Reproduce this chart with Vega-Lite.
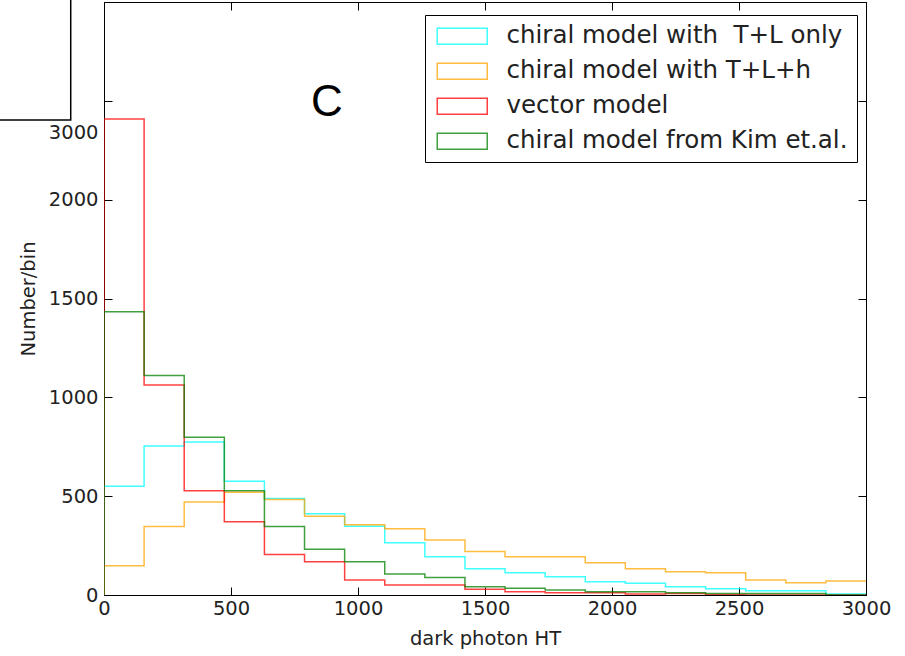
{
  "$schema": "https://vega.github.io/schema/vega-lite/v6.json",
  "width": 762,
  "height": 593,
  "autosize": {"type": "none"},
  "padding": {"left": 104, "top": 2, "right": 39, "bottom": 61},
  "background": "white",
  "config": {
    "font": "DejaVu Sans",
    "view": {"stroke": "black", "strokeWidth": 1},
    "axis": {"grid": false, "domainColor": "black", "tickColor": "black", "labelColor": "#222", "titleColor": "#222", "titleFontWeight": "normal"}
  },
  "datasets": {
    "hist": [
      {"m": "chiral model with\u00a0 T+L only", "i": 0, "x": 0, "y": 0},
      {"m": "chiral model with\u00a0 T+L only", "i": 1, "x": 0, "y": 550},
      {"m": "chiral model with\u00a0 T+L only", "i": 2, "x": 157.9, "y": 754},
      {"m": "chiral model with\u00a0 T+L only", "i": 3, "x": 315.8, "y": 774},
      {"m": "chiral model with\u00a0 T+L only", "i": 4, "x": 473.7, "y": 576},
      {"m": "chiral model with\u00a0 T+L only", "i": 5, "x": 631.6, "y": 488},
      {"m": "chiral model with\u00a0 T+L only", "i": 6, "x": 789.5, "y": 411},
      {"m": "chiral model with\u00a0 T+L only", "i": 7, "x": 947.4, "y": 348},
      {"m": "chiral model with\u00a0 T+L only", "i": 8, "x": 1105.3, "y": 264},
      {"m": "chiral model with\u00a0 T+L only", "i": 9, "x": 1263.2, "y": 193},
      {"m": "chiral model with\u00a0 T+L only", "i": 10, "x": 1421.1, "y": 133},
      {"m": "chiral model with\u00a0 T+L only", "i": 11, "x": 1578.9, "y": 113},
      {"m": "chiral model with\u00a0 T+L only", "i": 12, "x": 1736.8, "y": 92},
      {"m": "chiral model with\u00a0 T+L only", "i": 13, "x": 1894.7, "y": 67},
      {"m": "chiral model with\u00a0 T+L only", "i": 14, "x": 2052.6, "y": 59},
      {"m": "chiral model with\u00a0 T+L only", "i": 15, "x": 2210.5, "y": 42},
      {"m": "chiral model with\u00a0 T+L only", "i": 16, "x": 2368.4, "y": 32},
      {"m": "chiral model with\u00a0 T+L only", "i": 17, "x": 2526.3, "y": 22},
      {"m": "chiral model with\u00a0 T+L only", "i": 18, "x": 2684.2, "y": 22},
      {"m": "chiral model with\u00a0 T+L only", "i": 19, "x": 2842.1, "y": 5},
      {"m": "chiral model with\u00a0 T+L only", "i": 20, "x": 3000, "y": 5},

      {"m": "chiral model with T+L+h", "i": 0, "x": 0, "y": 0},
      {"m": "chiral model with T+L+h", "i": 1, "x": 0, "y": 148},
      {"m": "chiral model with T+L+h", "i": 2, "x": 157.9, "y": 347},
      {"m": "chiral model with T+L+h", "i": 3, "x": 315.8, "y": 470},
      {"m": "chiral model with T+L+h", "i": 4, "x": 473.7, "y": 520},
      {"m": "chiral model with T+L+h", "i": 5, "x": 631.6, "y": 483},
      {"m": "chiral model with T+L+h", "i": 6, "x": 789.5, "y": 399},
      {"m": "chiral model with T+L+h", "i": 7, "x": 947.4, "y": 355},
      {"m": "chiral model with T+L+h", "i": 8, "x": 1105.3, "y": 335},
      {"m": "chiral model with T+L+h", "i": 9, "x": 1263.2, "y": 278},
      {"m": "chiral model with T+L+h", "i": 10, "x": 1421.1, "y": 220},
      {"m": "chiral model with T+L+h", "i": 11, "x": 1578.9, "y": 193},
      {"m": "chiral model with T+L+h", "i": 12, "x": 1736.8, "y": 193},
      {"m": "chiral model with T+L+h", "i": 13, "x": 1894.7, "y": 163},
      {"m": "chiral model with T+L+h", "i": 14, "x": 2052.6, "y": 133},
      {"m": "chiral model with T+L+h", "i": 15, "x": 2210.5, "y": 118},
      {"m": "chiral model with T+L+h", "i": 16, "x": 2368.4, "y": 113},
      {"m": "chiral model with T+L+h", "i": 17, "x": 2526.3, "y": 76},
      {"m": "chiral model with T+L+h", "i": 18, "x": 2684.2, "y": 62},
      {"m": "chiral model with T+L+h", "i": 19, "x": 2842.1, "y": 71},
      {"m": "chiral model with T+L+h", "i": 20, "x": 3000, "y": 71},

      {"m": "vector model", "i": 0, "x": 0, "y": 0},
      {"m": "vector model", "i": 1, "x": 0, "y": 2408},
      {"m": "vector model", "i": 2, "x": 157.9, "y": 1062},
      {"m": "vector model", "i": 3, "x": 315.8, "y": 527},
      {"m": "vector model", "i": 4, "x": 473.7, "y": 370},
      {"m": "vector model", "i": 5, "x": 631.6, "y": 205},
      {"m": "vector model", "i": 6, "x": 789.5, "y": 168},
      {"m": "vector model", "i": 7, "x": 947.4, "y": 76},
      {"m": "vector model", "i": 8, "x": 1105.3, "y": 50},
      {"m": "vector model", "i": 9, "x": 1263.2, "y": 50},
      {"m": "vector model", "i": 10, "x": 1421.1, "y": 29},
      {"m": "vector model", "i": 11, "x": 1578.9, "y": 17},
      {"m": "vector model", "i": 12, "x": 1736.8, "y": 12},
      {"m": "vector model", "i": 13, "x": 1894.7, "y": 12},
      {"m": "vector model", "i": 14, "x": 2052.6, "y": 5},
      {"m": "vector model", "i": 15, "x": 2210.5, "y": 7},
      {"m": "vector model", "i": 16, "x": 2368.4, "y": 1},
      {"m": "vector model", "i": 17, "x": 2526.3, "y": 0},
      {"m": "vector model", "i": 18, "x": 2684.2, "y": 0},
      {"m": "vector model", "i": 19, "x": 2842.1, "y": 0},
      {"m": "vector model", "i": 20, "x": 3000, "y": 0},

      {"m": "chiral model from Kim et.al.", "i": 0, "x": 0, "y": 0},
      {"m": "chiral model from Kim et.al.", "i": 1, "x": 0, "y": 1433},
      {"m": "chiral model from Kim et.al.", "i": 2, "x": 157.9, "y": 1111},
      {"m": "chiral model from Kim et.al.", "i": 3, "x": 315.8, "y": 798},
      {"m": "chiral model from Kim et.al.", "i": 4, "x": 473.7, "y": 527},
      {"m": "chiral model from Kim et.al.", "i": 5, "x": 631.6, "y": 347},
      {"m": "chiral model from Kim et.al.", "i": 6, "x": 789.5, "y": 232},
      {"m": "chiral model from Kim et.al.", "i": 7, "x": 947.4, "y": 168},
      {"m": "chiral model from Kim et.al.", "i": 8, "x": 1105.3, "y": 106},
      {"m": "chiral model from Kim et.al.", "i": 9, "x": 1263.2, "y": 88},
      {"m": "chiral model from Kim et.al.", "i": 10, "x": 1421.1, "y": 42},
      {"m": "chiral model from Kim et.al.", "i": 11, "x": 1578.9, "y": 34},
      {"m": "chiral model from Kim et.al.", "i": 12, "x": 1736.8, "y": 25},
      {"m": "chiral model from Kim et.al.", "i": 13, "x": 1894.7, "y": 17},
      {"m": "chiral model from Kim et.al.", "i": 14, "x": 2052.6, "y": 17},
      {"m": "chiral model from Kim et.al.", "i": 15, "x": 2210.5, "y": 12},
      {"m": "chiral model from Kim et.al.", "i": 16, "x": 2368.4, "y": 8},
      {"m": "chiral model from Kim et.al.", "i": 17, "x": 2526.3, "y": 8},
      {"m": "chiral model from Kim et.al.", "i": 18, "x": 2684.2, "y": 8},
      {"m": "chiral model from Kim et.al.", "i": 19, "x": 2842.1, "y": 0},
      {"m": "chiral model from Kim et.al.", "i": 20, "x": 3000, "y": 0}
    ],
    "panel": [{"t": "C", "x": 878, "y": 2490}],
    "inset": [{"x": -700, "x2": -131, "y": 2403, "y2": 3300}]
  },
  "layer": [
    {
      "data": {"name": "hist"},
      "mark": {"type": "line", "interpolate": "step-after", "strokeWidth": 1.5, "opacity": 0.75, "clip": true},
      "encoding": {
        "x": {
          "field": "x", "type": "quantitative",
          "scale": {"domain": [0, 3000], "nice": false, "zero": false},
          "axis": {"orient": "bottom", "values": [0, 500, 1000, 1500, 2000, 2500, 3000], "format": "d", "tickSize": -8, "labelFontSize": 19.5, "labelPadding": 12, "labelFlush": false, "title": "dark photon HT", "titleFontSize": 19.5, "titlePadding": 12}
        },
        "y": {
          "field": "y", "type": "quantitative",
          "scale": {"domain": [0, 3000], "nice": false, "zero": false},
          "axis": {
            "orient": "left", "values": [0, 500, 1000, 1500, 2000, 2340, 2500],
            "format": "d",
            "labelExpr": "datum.value == 2340 ? '3000' : (datum.value == 2500 ? '' : datum.label)",
            "tickOpacity": {"condition": {"test": "datum.value == 2340", "value": 0}, "value": 1},
            "tickSize": -8, "labelFontSize": 19.5, "labelPadding": 14, "labelFlush": false,
            "title": "Number/bin", "titleFontSize": 19.5, "titlePadding": 10
          }
        },
        "color": {
          "field": "m", "type": "nominal",
          "scale": {
            "domain": ["chiral model with\u00a0 T+L only", "chiral model with T+L+h", "vector model", "chiral model from Kim et.al."],
            "range": ["#00ffff", "#ffa500", "#ff0000", "#008000"]
          },
          "legend": {
            "orient": "none", "legendX": 321, "legendY": 13, "title": null,
            "strokeColor": "black", "fillColor": "white", "padding": 9,
            "labelFontSize": 24.5, "labelColor": "#222", "labelLimit": 600,
            "symbolType": "M-2.5,-0.8H2.5V0.8H-2.5Z", "symbolSize": 400,
            "symbolStrokeWidth": 1.5, "symbolFillColor": "transparent", "symbolOpacity": 0.75,
            "symbolOffset": 16, "labelOffset": 32, "rowPadding": 10
          }
        },
        "order": {"field": "i", "type": "quantitative"}
      }
    },
    {
      "data": {"name": "panel"},
      "mark": {"type": "text", "fontSize": 44, "font": "Liberation Sans", "color": "black", "baseline": "middle", "align": "center"},
      "encoding": {
        "x": {
          "field": "x", "type": "quantitative",
          "scale": {"domain": [0, 3000], "nice": false, "zero": false},
          "axis": {"orient": "top", "values": [0, 500, 1000, 1500, 2000, 2500, 3000], "tickSize": -8, "labels": false, "domain": false, "title": null}
        },
        "y": {
          "field": "y", "type": "quantitative",
          "scale": {"domain": [0, 3000], "nice": false, "zero": false},
          "axis": {"orient": "right", "values": [0, 500, 1000, 1500, 2000, 2500, 3000], "tickSize": -8, "labels": false, "domain": false, "title": null}
        },
        "text": {"field": "t"}
      }
    },
    {
      "data": {"name": "inset"},
      "mark": {"type": "rect", "fill": "white", "stroke": "black", "strokeWidth": 1.5, "clip": false},
      "encoding": {
        "x": {"field": "x", "type": "quantitative", "scale": {"domain": [0, 3000], "nice": false, "zero": false}, "axis": null},
        "x2": {"field": "x2"},
        "y": {"field": "y", "type": "quantitative", "scale": {"domain": [0, 3000], "nice": false, "zero": false}, "axis": null},
        "y2": {"field": "y2"}
      }
    }
  ],
  "resolve": {"axis": {"x": "independent", "y": "independent"}}
}
